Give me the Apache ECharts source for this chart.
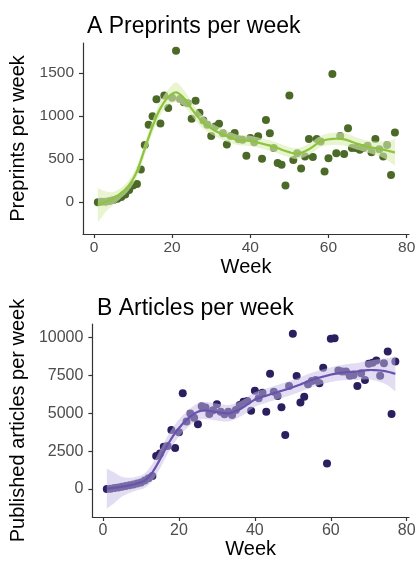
<!DOCTYPE html>
<html>
<head>
<meta charset="utf-8">
<script src="https://cdn.jsdelivr.net/npm/echarts@6/dist/echarts.min.js"></script>
<style>
html,body{margin:0;padding:0;background:#fff;}
#chart{width:419px;height:562px;}
</style>
</head>
<body>
<div id="chart"></div>
<script>
// ---- data ----
const weeks = Array.from({length: 77}, (_, i) => i + 1);
const preprints = [0,5,5,15,25,40,60,90,140,195,210,380,665,900,1000,1195,915,1240,1095,1215,1760,1200,1160,1150,970,1180,1040,950,900,770,880,910,800,670,770,805,730,725,540,745,695,765,505,955,800,630,455,435,195,1240,490,570,390,530,735,525,735,705,355,510,1490,570,770,560,860,630,630,610,630,655,580,735,615,530,665,315,810];
const articles = [0,20,60,100,150,200,250,300,360,430,560,700,850,2170,2340,2780,2830,3890,2700,3750,6320,4450,4990,4700,4270,5460,5370,4950,5200,5600,5100,4930,5100,4880,5210,5540,5760,5800,5170,6490,5990,6360,5100,7600,6420,6140,5390,3560,6800,10250,7460,5700,6090,6910,7130,7200,6980,8010,1680,9910,9950,7820,7750,7750,7480,7530,6800,7640,7200,8260,8340,8480,7480,8300,9070,4950,8410];

const fitWeeks = [1,3,5,7,9,11,13,15,17,19,21,23,25,27,29,31,33,35,37,40,43,46,49,52,55,58,61,64,67,70,73,75,77];
const fitA = [-35,5,45,110,200,360,620,880,1090,1220,1275,1210,1085,970,890,830,785,750,722,712,680,645,595,565,615,705,735,730,685,645,620,600,577];
const loA  = [-235,-115,-30,50,140,295,550,805,1010,1130,1160,1115,1005,895,820,765,720,688,662,652,620,585,535,503,550,640,665,655,615,575,535,490,422];
const hiA  = [165,125,120,170,260,425,690,955,1170,1310,1390,1305,1165,1045,960,895,850,812,782,772,740,705,655,627,680,770,805,805,755,715,705,710,732];

const fitB = [20,80,150,240,370,560,1100,1950,2900,3700,4300,4770,5100,5180,5110,5040,5000,5150,5400,5900,6160,6400,6630,6900,7200,7420,7600,7710,7760,7850,7820,7740,7600];
const loB  = [-1300,-920,-500,-260,-80,80,540,1350,2300,3120,3740,4210,4540,4620,4550,4480,4460,4630,4900,5420,5690,5930,6150,6420,6720,6940,7110,7190,7200,7230,7060,6840,6440];
const hiB  = [1340,1080,800,740,820,1040,1660,2550,3500,4280,4860,5330,5660,5740,5670,5600,5540,5670,5900,6380,6630,6870,7110,7380,7680,7900,8090,8230,8320,8470,8580,8640,8760];

const xTicks = [0,20,40,60,80];
const yTicksA = [0,500,1000,1500];
const yTicksB = [0,2500,5000,7500,10000];

// ---- helpers ----
const FONT = 'Liberation Sans, Arial, sans-serif';
function catmull(pts, steps) {
  const out = [];
  for (let i = 0; i < pts.length - 1; i++) {
    const p0 = pts[Math.max(i - 1, 0)], p1 = pts[i], p2 = pts[i + 1], p3 = pts[Math.min(i + 2, pts.length - 1)];
    for (let s = 0; s < steps; s++) {
      const t = s / steps, t2 = t * t, t3 = t2 * t;
      out.push([
        0.5 * (2 * p1[0] + (-p0[0] + p2[0]) * t + (2 * p0[0] - 5 * p1[0] + 4 * p2[0] - p3[0]) * t2 + (-p0[0] + 3 * p1[0] - 3 * p2[0] + p3[0]) * t3),
        0.5 * (2 * p1[1] + (-p0[1] + p2[1]) * t + (2 * p0[1] - 5 * p1[1] + 4 * p2[1] - p3[1]) * t2 + (-p0[1] + 3 * p1[1] - 3 * p2[1] + p3[1]) * t3)
      ]);
    }
  }
  out.push(pts[pts.length - 1]);
  return out;
}
function bandSeries(idx, lo, hi, fill) {
  return {
    type: 'custom', xAxisIndex: idx, yAxisIndex: idx, silent: true, z: 3,
    data: fitWeeks.map((w, i) => [w, lo[i], hi[i]]),
    encode: {x: 0, y: [1, 2]},
    renderItem: function (params, api) {
      if (params.dataIndex !== 0) return null;
      const up = catmull(fitWeeks.map((w, i) => api.coord([w, hi[i]])), 8);
      const dn = catmull(fitWeeks.map((w, i) => api.coord([w, lo[i]])), 8).reverse();
      return {type: 'polygon', shape: {points: up.concat(dn)}, style: {fill: fill}};
    }
  };
}
function lineSeries(idx, fit, color) {
  return {
    type: 'custom', xAxisIndex: idx, yAxisIndex: idx, silent: true, z: 4,
    data: fitWeeks.map((w, i) => [w, fit[i]]),
    encode: {x: 0, y: 1},
    renderItem: function (params, api) {
      if (params.dataIndex !== 0) return null;
      const pts = catmull(fitWeeks.map((w, i) => api.coord([w, fit[i]])), 8);
      return {type: 'polyline', shape: {points: pts}, style: {stroke: color, lineWidth: 2.2, fill: null}};
    }
  };
}
const plain = v => String(v);
function xAxis(idx) {
  return {
    type: 'value', gridIndex: idx, min: -2.8, max: 80.6,
    name: 'Week', nameLocation: 'middle', nameGap: idx === 0 ? 23 : 22,
    nameTextStyle: {fontFamily: FONT, fontSize: 20, color: '#000'},
    splitLine: {show: false},
    axisLine: {show: true, onZero: false, lineStyle: {color: '#333', width: 1.2}},
    axisTick: {show: true, length: 4, customValues: xTicks, lineStyle: {color: '#333', width: 1.2}},
    axisLabel: {customValues: xTicks, formatter: plain, fontFamily: FONT, fontSize: idx === 0 ? 15.5 : 16, color: '#4d4d4d', margin: 6}
  };
}
function yAxis(idx, min, max, ticks, name, gap) {
  return {
    type: 'value', gridIndex: idx, min: min, max: max,
    name: name, nameLocation: 'middle', nameGap: gap,
    nameTextStyle: {fontFamily: FONT, fontSize: 20, color: '#000'},
    splitLine: {show: false},
    axisLine: {show: true, onZero: false, lineStyle: {color: '#333', width: 1.2}},
    axisTick: {show: true, length: 4, customValues: ticks, lineStyle: {color: '#333', width: 1.2}},
    axisLabel: {customValues: ticks, formatter: plain, fontFamily: FONT, fontSize: idx === 0 ? 15.5 : 16, color: '#4d4d4d', margin: 9}
  };
}

const chart = echarts.init(document.getElementById('chart'), null, {renderer: 'canvas'});
chart.setOption({
  animation: false,
  backgroundColor: '#fff',
  title: [
    {text: 'A Preprints per week', left: 82, top: 10, textStyle: {fontFamily: FONT, fontSize: 23, fontWeight: 'normal', color: '#000'}},
    {text: 'B Articles per week', left: 92, top: 292, textStyle: {fontFamily: FONT, fontSize: 23, fontWeight: 'normal', color: '#000'}}
  ],
  grid: [
    {left: 83, top: 43, width: 326, height: 191},
    {left: 92, top: 324, width: 317, height: 193}
  ],
  xAxis: [xAxis(0), xAxis(1)],
  yAxis: [
    yAxis(0, -370, 1850, yTicksA, 'Preprints per week', 44),
    yAxis(1, -1850, 10890, yTicksB, 'Published articles per week', 51)
  ],
  series: [
    {type: 'scatter', xAxisIndex: 0, yAxisIndex: 0, z: 2, symbolSize: 8,
     itemStyle: {color: '#4b6a28', opacity: 1},
     data: weeks.map((w, i) => [w, preprints[i]])},
    bandSeries(0, loA, hiA, 'rgba(218,236,178,0.6)'),
    lineSeries(0, fitA, '#8cc43c'),

    {type: 'scatter', xAxisIndex: 1, yAxisIndex: 1, z: 2, symbolSize: 8,
     itemStyle: {color: '#2b1f5f', opacity: 1},
     data: weeks.map((w, i) => [w, articles[i]])},
    bandSeries(1, loB, hiB, 'rgba(200,188,232,0.5)'),
    lineSeries(1, fitB, '#6a52b0')
  ]
});
</script>
</body>
</html>
